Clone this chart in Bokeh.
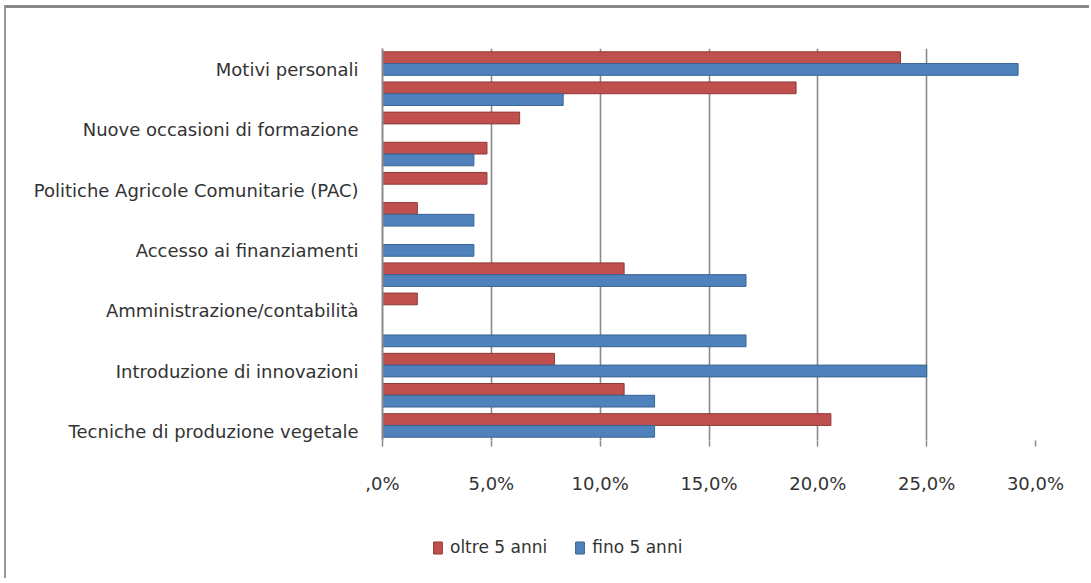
from bokeh.plotting import figure
from bokeh.layouts import column
from bokeh.models import Range1d, FixedTicker, Legend, LegendItem
from bokeh.embed import file_html
from bokeh.resources import INLINE

# ---- data (top row first) ----
labels = ["Motivi personali", "", "Nuove occasioni di formazione", "",
          "Politiche Agricole Comunitarie (PAC)", "", "Accesso ai finanziamenti", "",
          "Amministrazione/contabilità", "", "Introduzione di innovazioni", "",
          "Tecniche di produzione vegetale"]
oltre_5_anni = [23.8, 19.0, 6.3, 4.8, 4.8, 1.6, 0.0, 11.1, 1.6, 0.0, 7.9, 11.1, 20.6]
fino_5_anni = [29.2, 8.3, 0.0, 4.2, 0.0, 4.2, 4.2, 16.7, 0.0, 16.7, 25.0, 12.5, 12.5]
series_names = ["oltre 5 anni", "fino 5 anni"]
x_ticks = [0, 5, 10, 15, 20, 25, 30]
x_tick_labels = [",0%", "5,0%", "10,0%", "15,0%", "20,0%", "25,0%", "30,0%"]

RED = "#C0504D"
BLUE = "#4F81BD"
RED_EDGE = "#8e3a37"
BLUE_EDGE = "#3a6491"
FONT = "DejaVu Sans"
TXT = "#333333"

n = len(labels)
rows = [n - 1 - i for i in range(n)]
bar_h = 0.39
label_shift = 0.2

p = figure(frame_width=653, frame_height=392, output_backend="svg", toolbar_location=None,
           x_range=Range1d(0, 30), y_range=Range1d(-0.5, n - 0.5),
           min_border_left=376, min_border_right=54, min_border_top=40, min_border_bottom=58)
p.outline_line_color = None
p.background_fill_color = "white"

r_red = p.hbar(y=[r + bar_h / 2 for r in rows], right=oltre_5_anni, left=0, height=bar_h,
               fill_color=RED, line_color=RED_EDGE, line_width=1)
r_blue = p.hbar(y=[r - bar_h / 2 for r in rows], right=fino_5_anni, left=0, height=bar_h,
                fill_color=BLUE, line_color=BLUE_EDGE, line_width=1)

# x axis
p.xaxis.ticker = FixedTicker(ticks=x_ticks)
p.xaxis.major_label_overrides = {t: l for t, l in zip(x_ticks, x_tick_labels)}
p.xaxis.axis_line_color = None
p.xaxis.major_tick_out = 6
p.xaxis.major_tick_in = 0
p.xaxis.major_tick_line_color = "#8a8a8a"
p.xaxis.major_tick_line_width = 1.5
p.xaxis.minor_tick_line_color = None
p.xaxis.major_label_standoff = 26
p.xaxis.major_label_text_font = FONT
p.xaxis.major_label_text_font_size = "18px"
p.xaxis.major_label_text_color = TXT

# y axis
yt = [rows[i] - label_shift for i in range(n) if labels[i]]
yl = [labels[i] for i in range(n) if labels[i]]
p.yaxis.ticker = FixedTicker(ticks=yt)
p.yaxis.major_label_overrides = {t: l for t, l in zip(yt, yl)}
p.yaxis.axis_line_color = "#8a8a8a"
p.yaxis.axis_line_width = 2
p.yaxis.major_tick_out = 0
p.yaxis.major_tick_in = 0
p.yaxis.minor_tick_line_color = None
p.yaxis.major_label_standoff = 24
p.yaxis.major_label_text_font = FONT
p.yaxis.major_label_text_font_size = "18px"
p.yaxis.major_label_text_color = TXT

p.xgrid.ticker = FixedTicker(ticks=x_ticks)
p.xgrid.grid_line_color = "#8a8a8a"
p.xgrid.grid_line_width = 1.6
p.ygrid.grid_line_color = None

# legend strip below the chart (its frame is aligned with the chart frame)
q = figure(width=1083, height=80, output_backend="svg", toolbar_location=None,
           x_range=Range1d(0, 30), y_range=Range1d(-0.5, n - 0.5),
           x_axis_location=None, y_axis_location=None,
           min_border=0, min_border_left=0, min_border_right=0, min_border_top=0, min_border_bottom=0)
q.outline_line_color = None
q.grid.visible = False
q_red = q.hbar(y=[r + bar_h / 2 for r in rows], right=oltre_5_anni, left=0, height=bar_h,
               fill_color=RED, line_color=RED_EDGE, line_width=1, visible=False)
q_blue = q.hbar(y=[r - bar_h / 2 for r in rows], right=fino_5_anni, left=0, height=bar_h,
                fill_color=BLUE, line_color=BLUE_EDGE, line_width=1, visible=False)

legend = Legend(items=[LegendItem(label=series_names[0], renderers=[q_red]),
                       LegendItem(label=series_names[1], renderers=[q_blue])],
                location=(50, 21), orientation="horizontal",
                glyph_width=11, glyph_height=15, label_standoff=7, spacing=27, label_height=20,
                padding=0, margin=0, border_line_color=None, background_fill_alpha=0,
                inactive_fill_alpha=0,
                label_text_font=FONT, label_text_font_size="17px", label_text_color=TXT)
q.add_layout(legend)

layout = column(p, q, spacing=0)
layout.styles = {"margin-left": "4px", "margin-top": "5px",
                 "border-left": "2px solid #9a9a9a", "border-top": "3px solid #8a8a8a"}

open("out.html", "w").write(file_html(layout, INLINE))
